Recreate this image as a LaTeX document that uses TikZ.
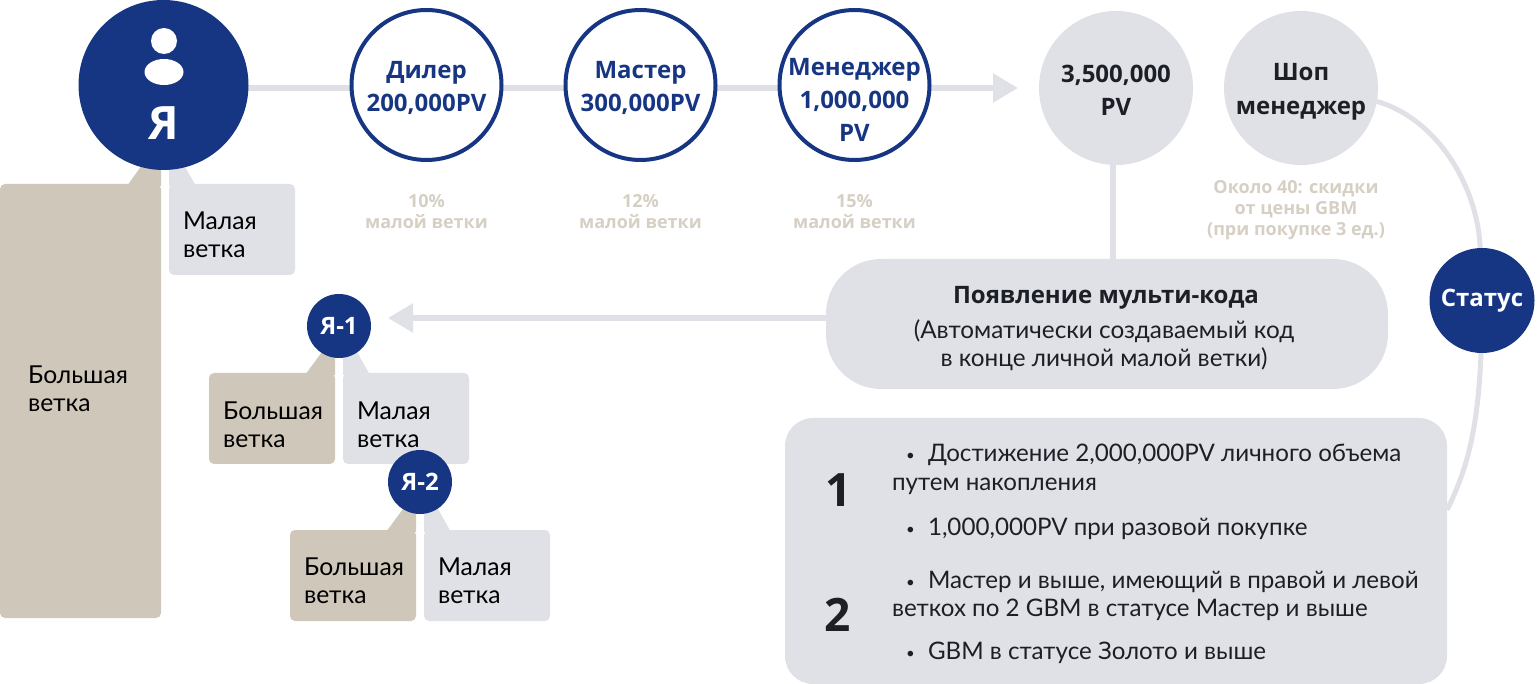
\documentclass[tikz,border=0pt]{standalone}
\usepackage{fontspec}
\setmainfont{Open Sans}
\newfontfamily\bodyfont{Lato}
\usetikzlibrary{arrows.meta,backgrounds,shapes.geometric}
\definecolor{navy}{HTML}{163583}
\definecolor{tan}{HTML}{CFC7BA}
\definecolor{pale}{HTML}{E0E1E7}
\definecolor{ink}{HTML}{1C1F26}
\definecolor{note}{HTML}{D6CFC4}
\newcommand{\fs}[1]{\fontsize{#1}{#1}\selectfont}
\newcommand{\bul}{\makebox[22pt][l]{\raisebox{1.5pt}{\fs{15}•}}}
\tikzset{
  x=1pt,y=-1pt,
  every node/.style={inner sep=0pt,outer sep=0pt},
  ring/.style={circle,draw=navy,line width=4pt,fill=white,minimum size=150pt},
  ringText/.style={text=navy,font=\bfseries\fs{24},align=center},
  greydisc/.style={circle,fill=pale,minimum size=154pt},
  greyText/.style={text=ink,font=\bfseries\fs{24},align=center},
  navydisc/.style={circle,fill=navy,text=white,font=\bfseries},
  tanbox/.style={rectangle,rounded corners=5pt,fill=tan,minimum width=126pt,minimum height=91pt},
  palebox/.style={rectangle,rounded corners=5pt,fill=pale,minimum width=126pt,minimum height=91pt},
  blabel/.style={anchor=west,align=left,text=black,font=\bodyfont\fs{24.7}},
  noteText/.style={text=note,font=\bfseries\fs{18},align=center},
  link/.style={draw=pale,line width=5.5pt},
  flow/.style={link,-{Triangle[length=25pt,width=28pt]}},
  listText/.style={anchor=west,text=ink,font=\bodyfont\fs{24.15}},
  numText/.style={text=ink,font=\bfseries\fs{46}}
}
\begin{document}
\begin{tikzpicture}
\useasboundingbox (0,0) rectangle (1540,684);
% circles
\node[navydisc,minimum size=170pt] (me) at (163.5,85) {};
\node[circle,fill=white,minimum size=26pt] (head) at (164,41) {};
\node[ellipse,fill=white,minimum width=39pt,minimum height=26pt] (body) at (164,72) {};
\node[text=white,font=\bfseries\fs{46}] (metext) at (164,123) {Я};
\node[ring] (dealer) at (426.5,85) {};
\node[ring] (master) at (640.5,85) {};
\node[ring] (manager) at (854.5,85) {};
\node[greydisc] (pv) at (1116,88) {};
\node[greydisc] (shop) at (1301,88) {};
\node[ringText] (dealert) at (426.5,88) {Дилер\\[9pt]200,000PV};
\node[ringText] (mastert) at (640.5,88) {Мастер\\[9pt]300,000PV};
\node[ringText] (managert) at (854.5,100) {Менеджер\\[9pt]1,000,000\\[9pt]PV};
\node[greyText] (pvt) at (1116,90) {3,500,000\\[9pt]PV};
\node[greyText] (shopt) at (1301,92) {Шоп\\[10pt]менеджер};
\coordinate (flowend) at (1018,88);
% notes
\node[noteText] (n1) at (426.5,212) {10\%\\[3pt]малой ветки};
\node[noteText] (n2) at (640.5,212) {12\%\\[3pt]малой ветки};
\node[noteText] (n3) at (854.5,212) {15\%\\[3pt]малой ветки};
\node[noteText] (n4) at (1296,210) {Около 40: скидки\\[3pt]от цены GBM\\[3pt](при покупке 3 ед.)};
% main branches
\node[rectangle,rounded corners=5pt,fill=tan,minimum width=161pt,minimum height=434pt] (bigL) at (80.5,401) {};
\node[palebox] (smallR) at (232,229.5) {};
\node[blabel] (bigLt) at (28,389) {Большая\\[3.5pt]ветка};
\node[blabel] (smallRt) at (183,235) {Малая\\[3.5pt]ветка};
% multi-code
\node[rectangle,rounded corners=55pt,fill=pale,minimum width=562pt,minimum height=130pt] (multi) at (1107,324) {};
\node[font=\bfseries\fs{24},text=ink] (multih) at (1106,298) {Появление мульти-кода};
\node[font=\bodyfont\fs{24.3},text=ink,align=center] (multit) at (1104,345) {(Автоматически создаваемый код\\[4pt]в конце личной малой ветки)};
% level 1
\node[navydisc,minimum size=64pt,font=\bfseries\fs{24}] (y1) at (339,326) {Я-1};
\node[tanbox] (t1) at (272,418.5) {};
\node[palebox] (p1) at (406,418.5) {};
\node[blabel] (t1t) at (223,425) {Большая\\[3.5pt]ветка};
\node[blabel] (p1t) at (357,425) {Малая\\[3.5pt]ветка};
% level 2
\node[tanbox] (t2) at (353,575.5) {};
\node[palebox] (p2) at (487,575.5) {};
\node[navydisc,minimum size=64pt,font=\bfseries\fs{24}] (y2) at (420,482) {Я-2};
\node[blabel] (t2t) at (304,581) {Большая\\[3.5pt]ветка};
\node[blabel] (p2t) at (438,581) {Малая\\[3.5pt]ветка};
% conditions
\node[rectangle,rounded corners=28pt,fill=pale,minimum width=662pt,minimum height=266pt] (cond) at (1116,551) {};
\node[numText] (num1) at (839,490) {1};
\node[numText] (num2) at (838,615) {2};
\node[listText] (b1) at (906,455) {\bul Достижение 2,000,000PV личного объема};
\node[listText] (b1b) at (892,486) {путем накопления};
\node[listText] (b2) at (906,529) {\bul 1,000,000PV при разовой покупке};
\node[listText] (b3) at (906,582) {\bul Мастер и выше, имеющий в правой и левой};
\node[listText] (b3b) at (892,610) {веткох по 2 GBM в статусе Мастер и выше};
\node[listText] (b4) at (906,653) {\bul GBM в статусе Золото и выше};
% status
\node[navydisc,minimum size=105pt,font=\bfseries\fs{24}] (status) at (1482,300.5) {Статус};
\coordinate (multiend) at (388,318);
\begin{pgfonlayer}{background}
  \draw[flow] ([yshift=-3pt]me.center) -- (flowend);
  \draw[link] ([xshift=-3pt]pv.center) -- ([xshift=-3pt]pv.center |- multi.north);
  \draw[flow] (multi.center |- multiend) -- (multiend);
  \draw[link,line width=5pt] (shop.-10) .. controls (1440,120) and (1478,190) .. (status.92);
  \draw[link,line width=5pt] (status.center) .. controls (1482,410) and (1472,460) .. ([yshift=41pt]cond.east);
  % pointers
  \fill[tan] (127,186) -- (142,165) -- (161,165) -- (161,186) -- cycle;
  \fill[pale] (169,186) -- (169,165) -- (184,165) -- (196,186) -- cycle;
  \fill[tan] (305,375) -- (322,352) -- (335,352) -- (335,375) -- cycle;
  \fill[pale] (343,375) -- (343,352) -- (357,352) -- (370,375) -- cycle;
  \fill[tan] (386,532) -- (403,509) -- (416,509) -- (416,532) -- cycle;
  \fill[pale] (424,532) -- (424,509) -- (438,509) -- (451,532) -- cycle;
\end{pgfonlayer}
\end{tikzpicture}
\end{document}
